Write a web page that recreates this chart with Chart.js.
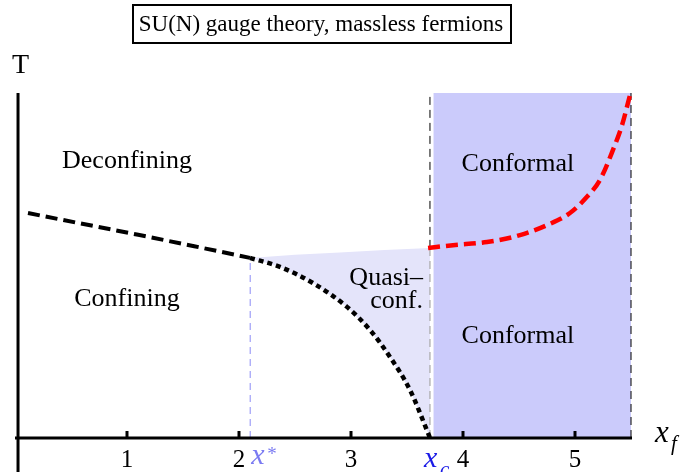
<!DOCTYPE html>
<html>
<head>
<meta charset="utf-8">
<script src="https://cdn.jsdelivr.net/npm/chart.js@4.4.1/dist/chart.umd.min.js"></script>
<style>
  html, body { margin: 0; padding: 0; background: #fff; }
  #wrap { width: 684px; height: 472px; position: relative; }
</style>
</head>
<body>
<div id="wrap"><canvas id="c" width="684" height="472"></canvas></div>
<script>
// values (x = x_f, T in units of the plot height)
const xRange = [0, 5.5];
const tRange = [0, 1];
const xStar = 2.1;
const xC = 3.705;
const conformalFrom = 3.735;
const tickValues = [1, 2, 3, 4, 5];

const confX = [0.116, 0.6, 1.1, 1.6, 2.098];
const confT = [0.652, 0.621, 0.589, 0.556, 0.522];

const quasiX = [2.098, 2.366, 2.661, 2.964, 3.17, 3.348, 3.527, 3.688, 3.705];
const quasiT = [0.522, 0.496, 0.449, 0.380, 0.313, 0.235, 0.139, 0.014, 0];

const topX = [2.098, 2.5, 2.9, 3.3, 3.705];
const topT = [0.522, 0.531, 0.538, 0.545, 0.551];

const redX = [3.688, 3.911, 4.214, 4.509, 4.75, 4.955, 5.107, 5.223, 5.339, 5.42, 5.491];
const redT = [0.551, 0.559, 0.568, 0.588, 0.617, 0.652, 0.699, 0.748, 0.835, 0.907, 0.994];

const pts = (xs, ys) => xs.map((x, i) => ({ x: x, y: ys[i] }));
const serif = '"Liberation Serif", "DejaVu Serif", serif';

// light "quasi-conformal" wedge: upper edge, then back along the dotted curve
const wedge = pts(topX, topT).concat(pts(quasiX, quasiT).reverse());

const extras = {
    id: 'extras',
    afterDatasetsDraw(chart) {
        const { ctx, scales: { x, y } } = chart;
        const y0 = y.getPixelForValue(0);
        ctx.save();
        ctx.strokeStyle = '#000';
        ctx.lineCap = 'butt';
        // axes
        ctx.lineWidth = 3;
        ctx.beginPath();
        ctx.moveTo(x.getPixelForValue(0), y0);
        ctx.lineTo(x.getPixelForValue(xRange[1]) + 1, y0);
        ctx.stroke();
        const ax = x.getPixelForValue(0.027);
        ctx.beginPath();
        ctx.moveTo(ax, y.getPixelForValue(tRange[1]));
        ctx.lineTo(ax, chart.height);
        ctx.stroke();
        // ticks
        tickValues.forEach(v => {
            const px = x.getPixelForValue(v);
            ctx.beginPath();
            ctx.moveTo(px, y0);
            ctx.lineTo(px, y0 - 7);
            ctx.stroke();
        });
        ctx.restore();
    },
    afterDraw(chart) {
        const { ctx, scales: { x, y } } = chart;
        const y0 = y.getPixelForValue(0);
        ctx.save();
        ctx.fillStyle = '#000';
        ctx.textBaseline = 'alphabetic';

        // tick labels
        ctx.font = '25px ' + serif;
        ctx.textAlign = 'center';
        tickValues.forEach(v => ctx.fillText(String(v), x.getPixelForValue(v), y0 + 29));

        // x* and x_c markers
        ctx.textAlign = 'left';
        ctx.font = 'italic 30px ' + serif;
        ctx.fillStyle = '#7b7bf2';
        ctx.fillText('x', x.getPixelForValue(xStar) + 1, y0 + 26);
        ctx.font = '19px ' + serif;
        ctx.fillText('*', x.getPixelForValue(xStar) + 17, y0 + 22);
        ctx.fillStyle = '#1a1ae6';
        ctx.font = 'italic 30px ' + serif;
        ctx.fillText('x', x.getPixelForValue(xC) - 6, y0 + 29);
        ctx.font = 'italic 21px ' + serif;
        ctx.fillText('c', x.getPixelForValue(xC) + 10, y0 + 38);

        // axis names
        ctx.fillStyle = '#000';
        ctx.font = 'italic 31px ' + serif;
        ctx.fillText('x', 655, y0 + 4);
        ctx.font = 'italic 21px ' + serif;
        ctx.fillText('f', 671, y0 + 12);
        ctx.font = '28px ' + serif;
        ctx.fillText('T', 12, 73);

        // region names
        ctx.font = '26px ' + serif;
        ctx.textAlign = 'center';
        ctx.fillText('Deconfining', x.getPixelForValue(1.0), y.getPixelForValue(0.783));
        ctx.fillText('Confining', x.getPixelForValue(1.0), y.getPixelForValue(0.383));
        ctx.fillText('Conformal', x.getPixelForValue(4.49), y.getPixelForValue(0.774));
        ctx.fillText('Conformal', x.getPixelForValue(4.49), y.getPixelForValue(0.275));
        ctx.textAlign = 'right';
        ctx.fillText('Quasi\u2013', x.getPixelForValue(3.643), y.getPixelForValue(0.443));
        ctx.fillText('conf.', x.getPixelForValue(3.643), y.getPixelForValue(0.377));

        // boxed title
        ctx.lineWidth = 2;
        ctx.strokeStyle = '#000';
        ctx.strokeRect(133, 5, 378, 38);
        ctx.textAlign = 'center';
        ctx.font = '23px ' + serif;
        ctx.fillText('SU(N) gauge theory, massless fermions', 321, 31);
        ctx.restore();
    }
};

const line = (data, color, width, dash, extra) => Object.assign({
    data: data,
    borderColor: color,
    borderWidth: width,
    borderDash: dash,
    pointRadius: 0,
    fill: false,
    clip: false,
    order: 1
}, extra || {});

new Chart(document.getElementById('c'), {
    type: 'line',
    data: {
        datasets: [
            line(pts(confX, confT), '#000', 4, [12, 6], { tension: 0 }),
            line(pts(quasiX, quasiT), '#000', 4.5, [5, 4], { cubicInterpolationMode: 'monotone' }),
            line(pts(redX, redT), '#ff0000', 4.5, [12, 6], { cubicInterpolationMode: 'monotone' }),
            line([{ x: xStar, y: 0 }, { x: xStar, y: confT[confT.length - 1] }], '#8c8cf5', 1, [7, 5]),
            line([{ x: xC, y: 0 }, { x: xC, y: topT[topT.length - 1] }], '#a8a8a8', 1.2, [8, 5]),
            line([{ x: xC, y: topT[topT.length - 1] }, { x: xC, y: tRange[1] }], '#000', 1, [8, 5]),
            line([{ x: xRange[1], y: 0 }, { x: xRange[1], y: tRange[1] }], '#000', 1, [8, 5]),
            // filled regions, drawn underneath
            {
                data: wedge, borderWidth: 0, borderColor: 'rgba(0,0,0,0)', pointRadius: 0,
                backgroundColor: '#e4e4fa', fill: 'shape', tension: 0, order: 5
            },
            {
                data: [{ x: conformalFrom, y: tRange[1] }, { x: xRange[1], y: tRange[1] }],
                borderWidth: 0, borderColor: 'rgba(0,0,0,0)', pointRadius: 0,
                backgroundColor: '#cbcbfb', fill: 'origin', order: 6
            }
        ]
    },
    options: {
        responsive: false,
        animation: false,
        events: [],
        layout: { padding: { left: 15, right: 53, top: 93, bottom: 34 } },
        plugins: { legend: { display: false }, tooltip: { enabled: false } },
        scales: {
            x: { type: 'linear', min: xRange[0], max: xRange[1], display: false },
            y: { type: 'linear', min: tRange[0], max: tRange[1], display: false }
        }
    },
    plugins: [extras]
});
</script>
</body>
</html>
